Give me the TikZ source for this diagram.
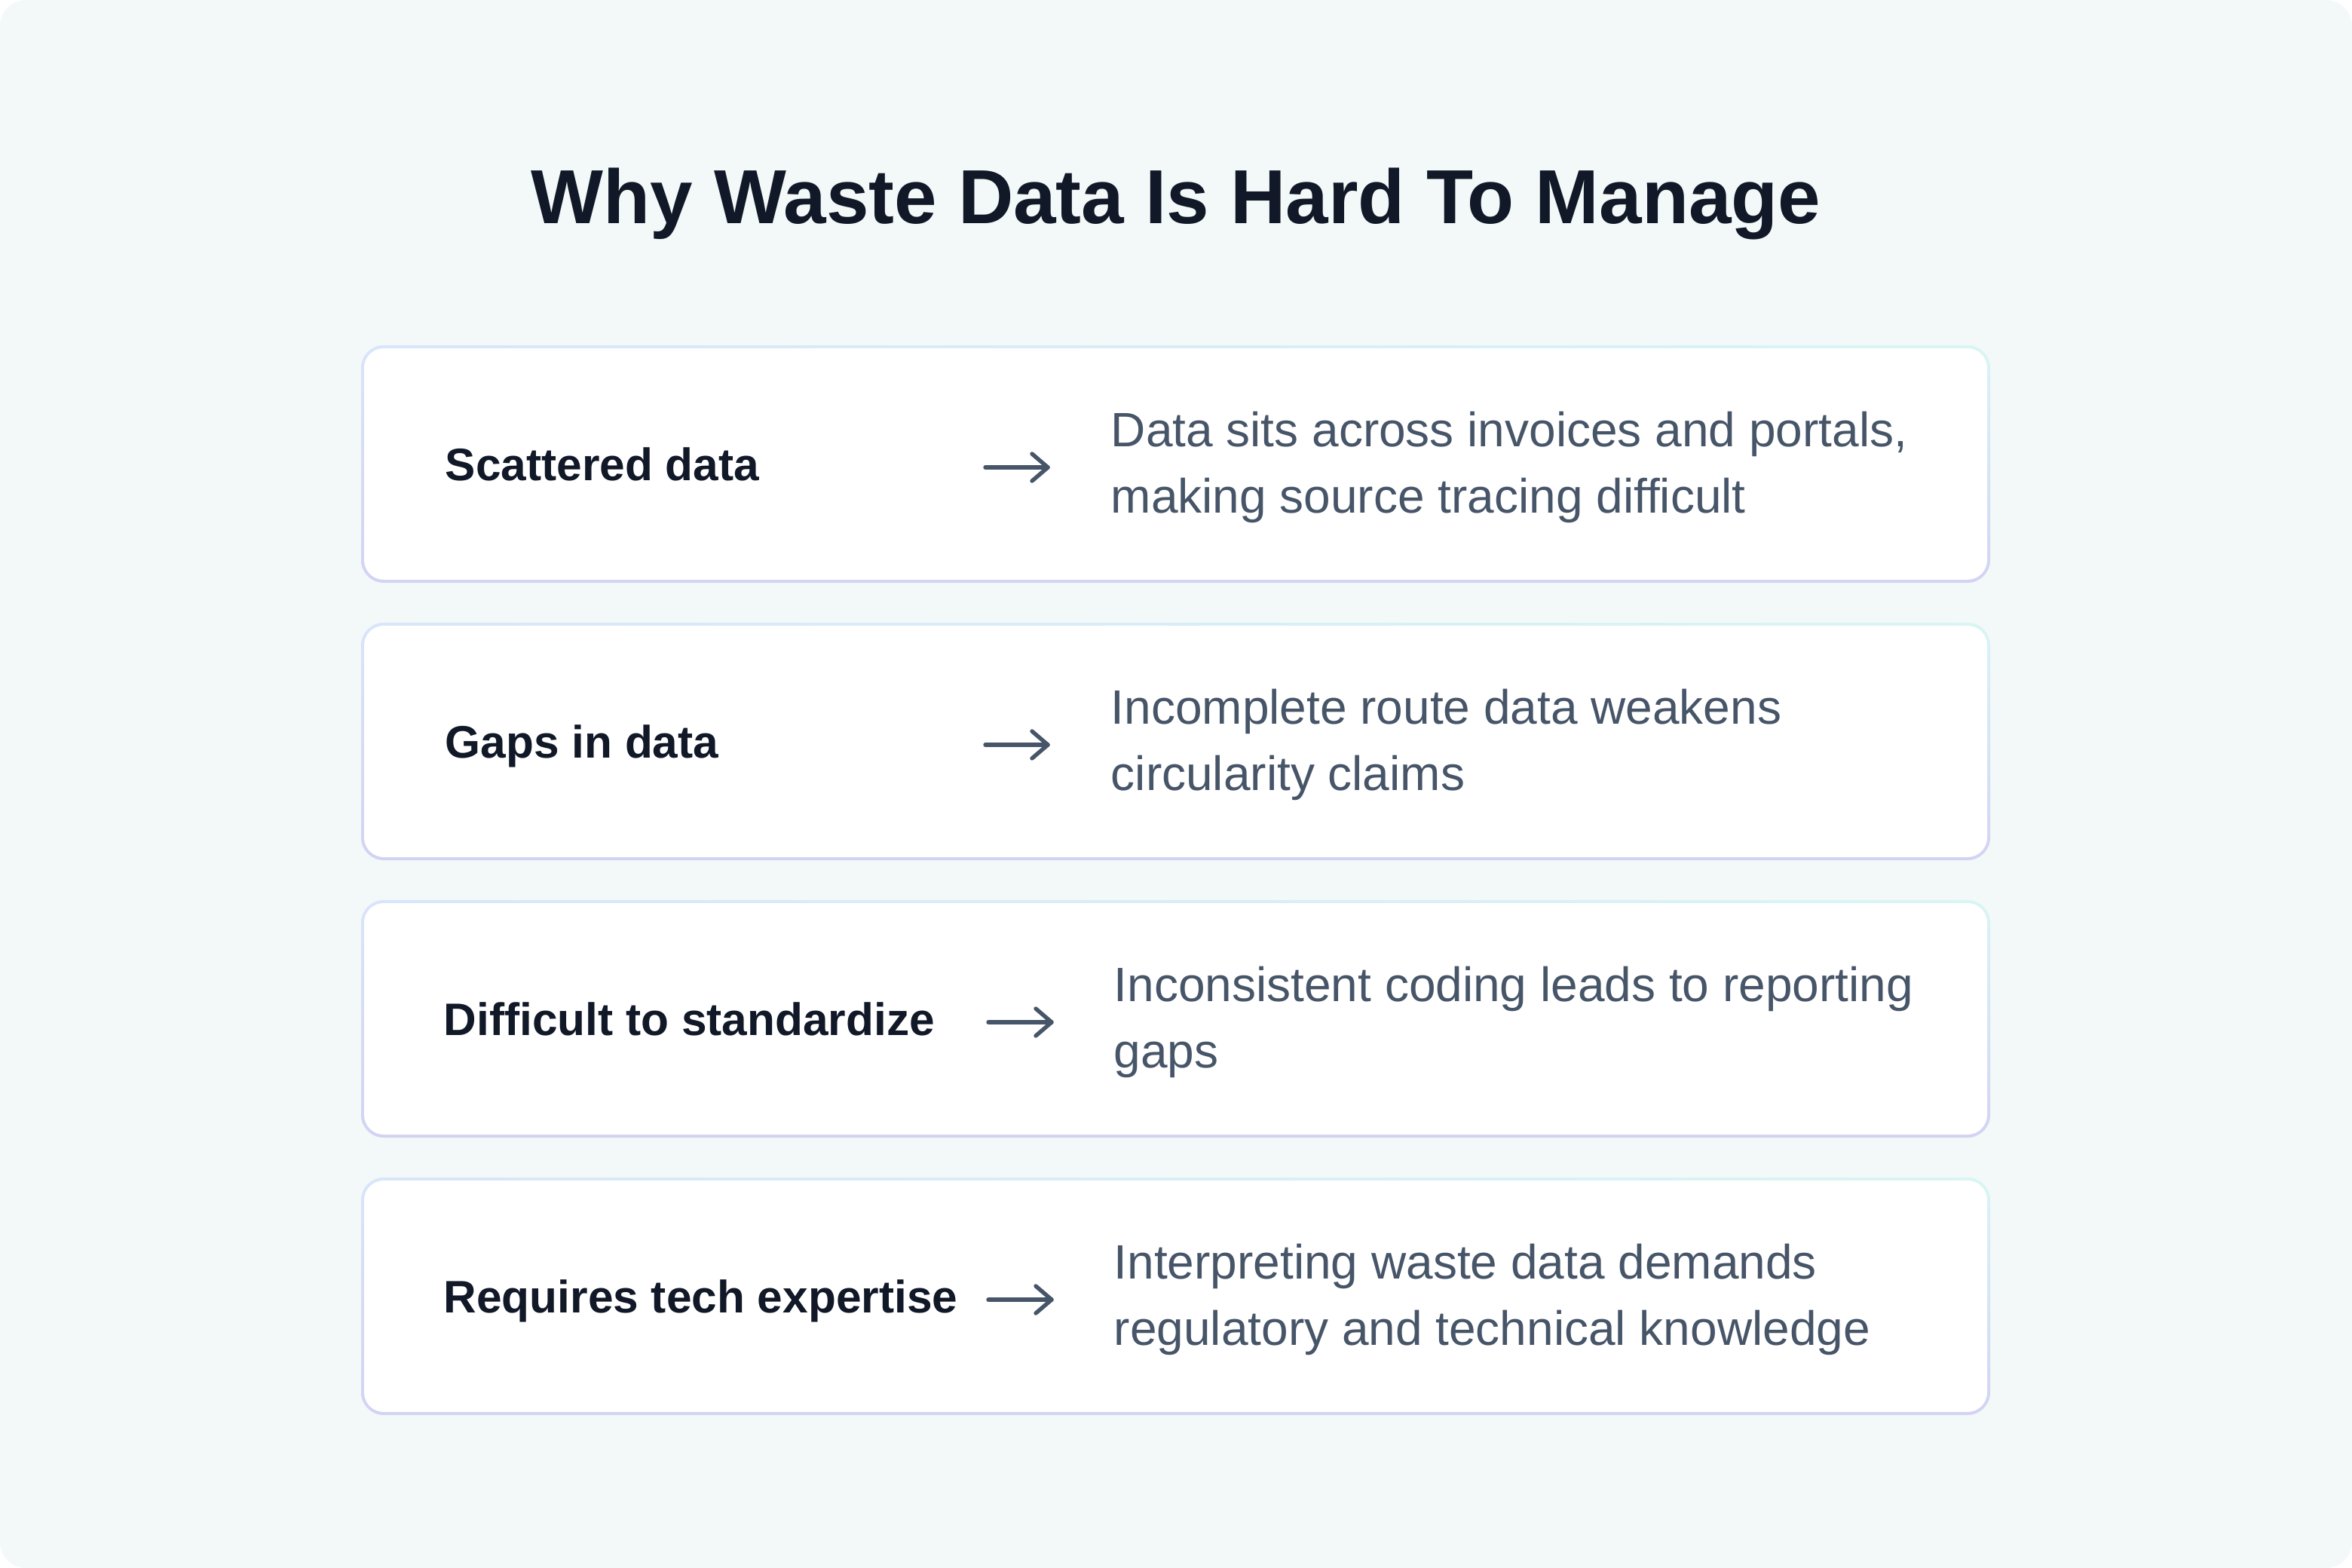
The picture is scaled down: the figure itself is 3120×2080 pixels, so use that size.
\documentclass[tikz,border=0pt]{standalone}
\usepackage{fontspec}
\setmainfont{Liberation Sans}
\usetikzlibrary{shadings}
\definecolor{bgcol}{HTML}{F3F8F8}
\definecolor{bordA}{HTML}{D9E5FA}
\definecolor{bordB}{HTML}{D8F6F3}
\definecolor{bordC}{HTML}{D2D3F3}
\definecolor{ink}{HTML}{111827}
\definecolor{slate}{HTML}{475569}
\begin{document}
\begin{tikzpicture}[x=0.25pt,y=-0.25pt,
  titlestyle/.style={font=\fontsize{25.4}{30}\selectfont\bfseries, text=ink, inner sep=0pt, anchor=base},
  labelstyle/.style={font=\fontsize{15.1}{18}\selectfont\bfseries, text=ink, inner sep=0pt, anchor=base west},
  descstyle/.style={font=\fontsize{16}{22}\selectfont, text=slate, inner sep=0pt, anchor=base west},
  arrowline/.style={draw=slate, line width=1.35pt, line cap=round, line join=round},
  cardborder/.style={upper left=bordA, upper right=bordB, lower left=bordC, lower right=bordC, rounded corners=7.5pt},
  cardfill/.style={fill=white, rounded corners=6.5pt}]
\useasboundingbox (0,0) rectangle (3120,2080);
\fill[white] (0,0) rectangle (3120,2080);
\fill[bgcol, rounded corners=8.75pt] (0,0) rectangle (3120,2080);

\node[titlestyle] (title) at (1560,296) {Why Waste Data Is Hard To Manage};

% Row 1
\shade[cardborder] (479,458) rectangle (2640,773);
\fill[cardfill] (483,462) rectangle (2636,769);
\node[labelstyle] (lab1) at (590,637) {Scattered data};
\coordinate (a1s) at (1307,620);
\coordinate (a1e) at (1390,620);
\draw[arrowline] (a1s) -- (a1e);
\draw[arrowline] ([shift={(-21,-18)}]a1e) -- (a1e) -- ([shift={(-21,18)}]a1e);
\node[descstyle] (desc1) at (1473,592) {\begin{tabular}[t]{@{}l@{}}Data sits across invoices and portals,\\making source tracing difficult\end{tabular}};

% Row 2
\shade[cardborder] (479,826) rectangle (2640,1141);
\fill[cardfill] (483,830) rectangle (2636,1137);
\node[labelstyle] (lab2) at (590,1005) {Gaps in data};
\coordinate (a2s) at (1307,988);
\coordinate (a2e) at (1390,988);
\draw[arrowline] (a2s) -- (a2e);
\draw[arrowline] ([shift={(-21,-18)}]a2e) -- (a2e) -- ([shift={(-21,18)}]a2e);
\node[descstyle] (desc2) at (1473,960) {\begin{tabular}[t]{@{}l@{}}Incomplete route data weakens\\circularity claims\end{tabular}};

% Row 3
\shade[cardborder] (479,1194) rectangle (2640,1509);
\fill[cardfill] (483,1198) rectangle (2636,1505);
\node[labelstyle] (lab3) at (588,1373) {Difficult to standardize};
\coordinate (a3s) at (1311,1356);
\coordinate (a3e) at (1395,1356);
\draw[arrowline] (a3s) -- (a3e);
\draw[arrowline] ([shift={(-21,-18)}]a3e) -- (a3e) -- ([shift={(-21,18)}]a3e);
\node[descstyle] (desc3) at (1477,1328) {\begin{tabular}[t]{@{}l@{}}Inconsistent coding leads to reporting\\gaps\end{tabular}};

% Row 4
\shade[cardborder] (479,1562) rectangle (2640,1877);
\fill[cardfill] (483,1566) rectangle (2636,1873);
\node[labelstyle] (lab4) at (588,1741) {Requires tech expertise};
\coordinate (a4s) at (1311,1724);
\coordinate (a4e) at (1395,1724);
\draw[arrowline] (a4s) -- (a4e);
\draw[arrowline] ([shift={(-21,-18)}]a4e) -- (a4e) -- ([shift={(-21,18)}]a4e);
\node[descstyle] (desc4) at (1477,1696) {\begin{tabular}[t]{@{}l@{}}Interpreting waste data demands\\regulatory and technical knowledge\end{tabular}};
\end{tikzpicture}
\end{document}
